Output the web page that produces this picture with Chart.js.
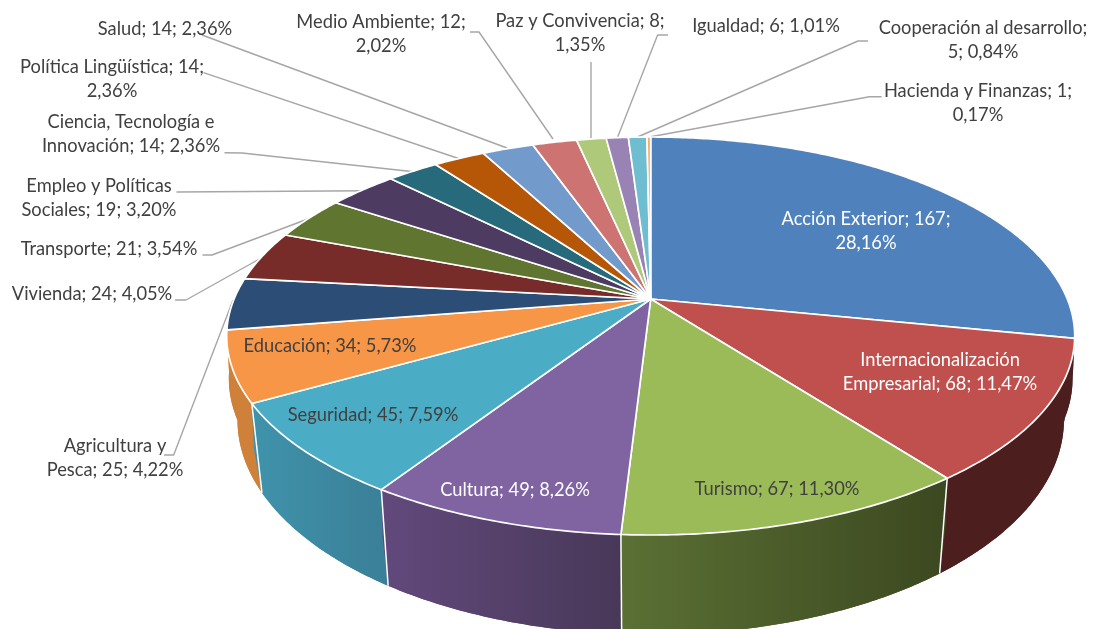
<!DOCTYPE html>
<html lang="es">
<head>
<meta charset="utf-8">
<style>html,body{margin:0;padding:0;background:#fff;overflow:hidden}canvas{display:block}</style>
<script src="https://cdn.jsdelivr.net/npm/chart.js@4/dist/chart.umd.min.js"></script>
</head>
<body>
<canvas id="c" width="1094" height="629"></canvas>
<script>
const categories = ["Acción Exterior","Internacionalización Empresarial","Turismo","Cultura","Seguridad","Educación","Agricultura y Pesca","Vivienda","Transporte","Empleo y Políticas Sociales","Ciencia, Tecnología e Innovación","Política Lingüística","Salud","Medio Ambiente","Paz y Convivencia","Igualdad","Cooperación al desarrollo","Hacienda y Finanzas"];
const values = [167,68,67,49,45,34,25,24,21,19,14,14,14,12,8,6,5,1];
const percents = ["28,16%","11,47%","11,30%","8,26%","7,59%","5,73%","4,22%","4,05%","3,54%","3,20%","2,36%","2,36%","2,36%","2,02%","1,35%","1,01%","0,84%","0,17%"];
const labelLines = [
  ["Acción Exterior; 167;","28,16%"],
  ["Internacionalización","Empresarial; 68; 11,47%"],
  ["Turismo; 67; 11,30%"],
  ["Cultura; 49; 8,26%"],
  ["Seguridad; 45; 7,59%"],
  ["Educación; 34; 5,73%"],
  ["Agricultura y","Pesca; 25; 4,22%"],
  ["Vivienda; 24; 4,05%"],
  ["Transporte; 21; 3,54%"],
  ["Empleo y Políticas","Sociales; 19; 3,20%"],
  ["Ciencia, Tecnología e","Innovación; 14; 2,36%"],
  ["Política Lingüística; 14;","2,36%"],
  ["Salud; 14; 2,36%"],
  ["Medio Ambiente; 12;","2,02%"],
  ["Paz y Convivencia; 8;","1,35%"],
  ["Igualdad; 6; 1,01%"],
  ["Cooperación al desarrollo;","5; 0,84%"],
  ["Hacienda y Finanzas; 1;","0,17%"]
];
const topColors = ["#4f81bd","#c0504d","#9bbb59","#8064a2","#4bacc6","#f79646","#2c4d75","#772c2a","#5f7530","#4d3b62","#276a7c","#b65708","#729aca","#cd7371","#afc97a","#9983b5","#6fbdd1","#f9ab6b"];
const wallColors = [["#3b618e","#3b618e"],["#4d1e1e","#4d1e1e"],["#5a7034","#3c4820"],["#62497c","#483858"],["#3f93ab","#3a7f97"],["#cf8039","#cf8039"],["#cf8039","#cf8039"],["#5a2020","#5a2020"],["#475824","#475824"],["#3a2c4a","#3a2c4a"],["#1d505e","#1d505e"],["#884106","#884106"],["#5674a0","#5674a0"],["#9a5655","#9a5655"],["#83975c","#83975c"],["#736288","#736288"],["#538e9d","#538e9d"],["#4d1e1e","#4d1e1e"]];
const labelPos = [[866,219],[940,360],[777,489],[515,490],[373,415],[330,346],[115,446],[92,294],[109,249],[99,186],[131,122],[112,67],[165,29],[381,22],[580,21],[766,26],[983,28],[978,91]];
const labelColor = ["#ffffff","#ffffff","#404040","#ffffff","#404040","#404040","#404040","#404040","#404040","#404040","#404040","#404040","#404040","#404040","#404040","#404040","#404040","#404040"];
const leaders = {
  6:[[164,455],[173.7,455],[233,300]],
  7:[[175,300],[186,300],[263,257]],
  8:[[202.5,255],[212,255],[310.5,218]],
  9:[[176.5,192],[365,190.7]],
  10:[[224.5,152.7],[242,153],[416,172]],
  11:[[203.5,72.7],[460,159]],
  12:[[202,35],[507,148]],
  13:[[470,32],[479,32],[553,139]],
  14:[[591,62],[591,138]],
  15:[[668,35],[657.6,35],[617.7,137]],
  16:[[868,41],[858,41],[637.5,137]],
  17:[[881.6,96.7],[869.4,96.7],[650.7,136.7]]
};
const persp = {cx:650.7, k:-0.186,
  top:{y0:299,p:136.5,q:416.6},
  mid:{y0:340,p:136.5,q:414.5},
  bottom:{y0:380,p:136.6,q:406}};
function project(a, rim){
  const x=Math.cos(a), y=Math.sin(a), d=1+persp.k*y;
  return [persp.cx+rim.q*x/d, (rim.y0+rim.p*y)/d];
}
function arcPoints(a0,a1,rim){
  const n=Math.max(2,Math.ceil(Math.abs(a1-a0)/0.01)), pts=[];
  for(let i=0;i<=n;i++) pts.push(project(a0+(a1-a0)*i/n,rim));
  return pts;
}
function tracePoly(ctx,pts){ctx.beginPath();pts.forEach((p,i)=>i?ctx.lineTo(p[0],p[1]):ctx.moveTo(p[0],p[1]));ctx.closePath();}
const pie3d = {
  id:'pie3d',
  beforeDatasetsDraw(chart){
    const ctx=chart.ctx, arcs=chart.getDatasetMeta(0).data;
    ctx.save();
    ctx.lineJoin='round';
    // outer wall, painted back to front
    const order=arcs.map((_,i)=>i).sort((a,b)=>Math.sin((arcs[a].startAngle+arcs[a].endAngle)/2)-Math.sin((arcs[b].startAngle+arcs[b].endAngle)/2));
    order.forEach(i=>{
      const s=arcs[i].startAngle,e=arcs[i].endAngle;
      const t=arcPoints(s,e,persp.top), m=arcPoints(s,e,persp.mid), b=arcPoints(s,e,persp.bottom);
      const all=t.concat(b.slice().reverse());
      const xs=all.map(p=>p[0]), g=ctx.createLinearGradient(Math.min(...xs),0,Math.max(...xs),0);
      g.addColorStop(0,wallColors[i][0]);g.addColorStop(1,wallColors[i][1]);
      ctx.fillStyle=g;
      tracePoly(ctx,all);ctx.fill();
      tracePoly(ctx,t.concat(m.slice().reverse()));ctx.fill();
      tracePoly(ctx,m.concat(b.slice().reverse()));ctx.fill();
    });
    // white edges between visible wall faces
    order.forEach(i=>{
      const s=arcs[i].startAngle;
      if(Math.sin(s)<0.3) return;
      const t=project(s,persp.top), b=project(s,persp.bottom);
      ctx.strokeStyle='#ffffff';ctx.lineWidth=1.5;
      ctx.beginPath();ctx.moveTo(t[0],t[1]);ctx.lineTo(b[0],b[1]);ctx.stroke();
    });
    // leader lines
    ctx.strokeStyle='#a6a6a6';ctx.lineWidth=1.4;
    Object.values(leaders).forEach(l=>{ctx.beginPath();l.forEach((p,i)=>i?ctx.lineTo(p[0],p[1]):ctx.moveTo(p[0],p[1]));ctx.stroke();});
    // top face
    const apex=project(0,{y0:persp.top.y0,p:0,q:0});
    arcs.forEach((arc,i)=>{
      const pts=arcPoints(arc.startAngle,arc.endAngle,persp.top);
      pts.unshift(apex);
      tracePoly(ctx,pts);
      ctx.fillStyle=arc.options.backgroundColor;ctx.fill();
      ctx.strokeStyle='#ffffff';ctx.lineWidth=1.7;ctx.stroke();
    });
    // data labels
    ctx.font='18.3px Lato, sans-serif';
    ctx.textAlign='center';ctx.textBaseline='middle';
    labelLines.forEach((lines,i)=>{
      ctx.fillStyle=labelColor[i];
      const pos=labelPos[i];
      lines.forEach((t,j)=>ctx.fillText(t,pos[0],pos[1]+j*24.3));
    });
    ctx.restore();
    return false;
  }
};
new Chart(document.getElementById('c'),{
  type:'pie',
  data:{labels:categories,datasets:[{data:values,backgroundColor:topColors,borderColor:'#ffffff',borderWidth:1}]},
  options:{responsive:false,animation:false,layout:{padding:0},
    plugins:{legend:{display:false},tooltip:{enabled:false},title:{display:false}}},
  plugins:[pie3d]
});
</script>
</body>
</html>
